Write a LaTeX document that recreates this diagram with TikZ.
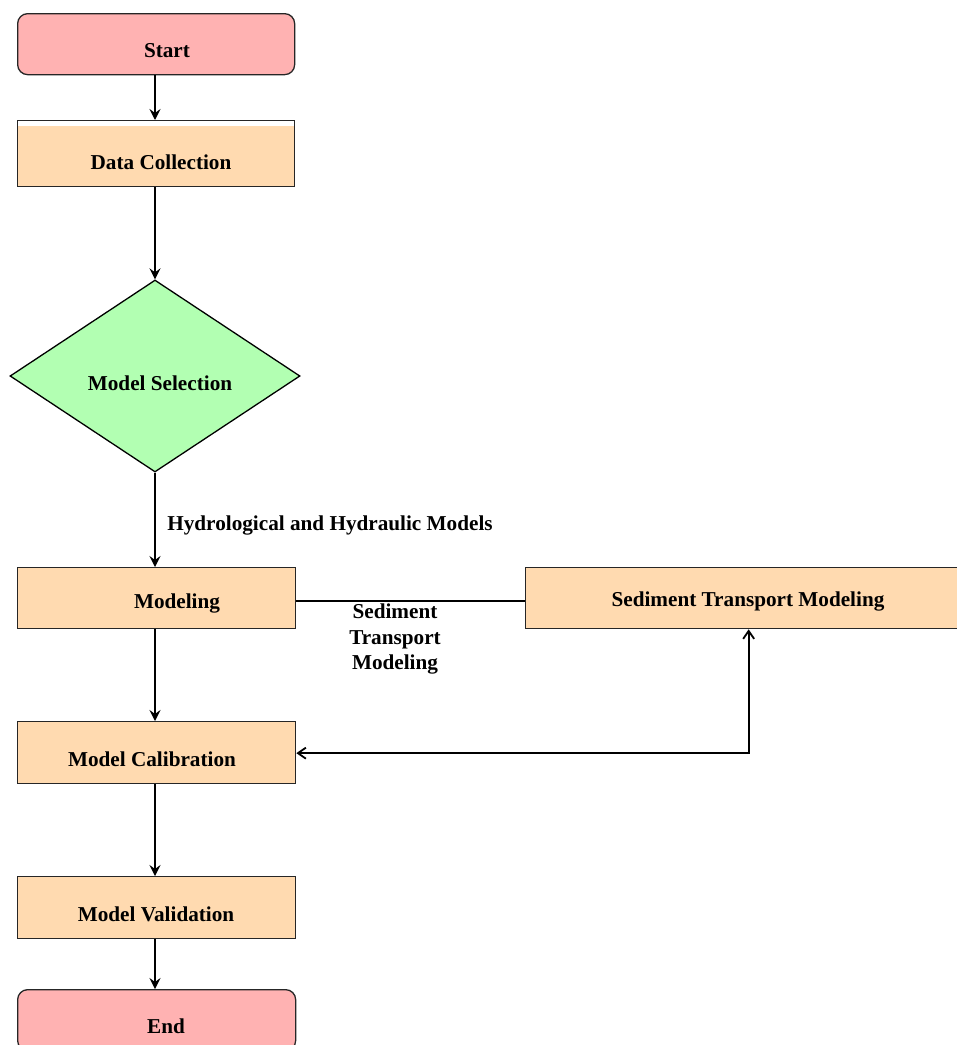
\documentclass[tikz,border=0pt]{standalone}
\usepackage{fontspec}
\setmainfont{Liberation Serif}
\usetikzlibrary{shapes.geometric,arrows.meta}
\definecolor{pinkfill}{HTML}{FFB2B2}
\definecolor{peachfill}{HTML}{FFDAB0}
\definecolor{greenfill}{HTML}{B2FFB2}
\tikzset{
  box/.style={draw=black!85, line width=1.3pt, inner sep=0pt, minimum width=277pt, minimum height=61pt, anchor=north west},
  term/.style={box, fill=pinkfill, rounded corners=10pt},
  proc/.style={box, fill=peachfill},
  txt/.style={font=\fontsize{21.2}{25.5}\selectfont\bfseries, inner sep=0pt, align=center},
  flow/.style={line width=2.9pt, -{Stealth[length=11pt,width=11pt,inset=4pt]}},
  thin/.style={line width=1.8pt},
  thinarrow/.style={thin, {Straight Barb[length=8pt,width=11pt]}-{Straight Barb[length=8pt,width=11pt]}}
}
\begin{document}
\begin{tikzpicture}[x=1pt,y=-1pt]
\useasboundingbox (0,0) rectangle (957,1045);
\clip (0,0) rectangle (957,1045);
\fill[white] (0,0) rectangle (957,1045);

% shapes
\node[term] (start) at (17,13) {};
\node[proc, minimum height=66pt, path picture={\fill[white] ([xshift=0.7pt,yshift=-0.7pt]path picture bounding box.north west) rectangle ([xshift=-0.7pt,yshift=-5.5pt]path picture bounding box.north east);}] (data) at (17,120) {};
\node[diamond, draw=black, line width=1.3pt, fill=greenfill, inner sep=0pt, minimum width=290pt, minimum height=192pt] (sel) at (155,376) {};
\node[proc, minimum width=278pt] (mod) at (17,567) {};
\node[proc, minimum width=446pt] (sed) at (525,567) {};
\node[proc, minimum width=278pt, minimum height=62pt] (cal) at (17,721) {};
\node[proc, minimum width=278pt, minimum height=62pt] (val) at (17,876) {};
\node[term, minimum width=278pt] (end) at (17,989) {};

% texts
\node[txt] (tstart) at (167,51) {Start};
\node[txt] (tdata) at (161,162) {Data Collection};
\node[txt] (tsel) at (160,383) {Model Selection};
\node[txt] (tmod) at (177,603) {Modeling};
\node[txt] (tsed) at (748,601) {Sediment Transport Modeling};
\node[txt] (tcal) at (152,759) {Model Calibration};
\node[txt] (tval) at (156,914) {Model Validation};
\node[txt] (tend) at (166,1026) {End};
\node[txt] (lhyd) at (330,525) {Hydrological and Hydraulic Models};
\node[txt] (lsed) at (395,639) {Sediment\\Transport\\Modeling};

% connectors
\draw[flow] (start.south -| sel.north) -- (sel.north |- data.north);
\draw[flow] (data.south -| sel.north) -- (sel.north);
\draw[flow] (sel.south) -- (sel.south |- mod.north);
\draw[flow] (mod.south -| sel.north) -- (sel.north |- cal.north);
\draw[flow] (cal.south -| sel.north) -- (sel.north |- val.north);
\draw[flow] (val.south -| sel.north) -- (sel.north |- end.north);
\coordinate (mline) at ([yshift=-2.5pt]mod.east);
\draw[thin] (mline) -- (mline -| sed.west);
\coordinate (calin) at ([yshift=-0.5pt]cal.east);
\draw[thinarrow] (calin) -| (sed.south);
\end{tikzpicture}
\end{document}
